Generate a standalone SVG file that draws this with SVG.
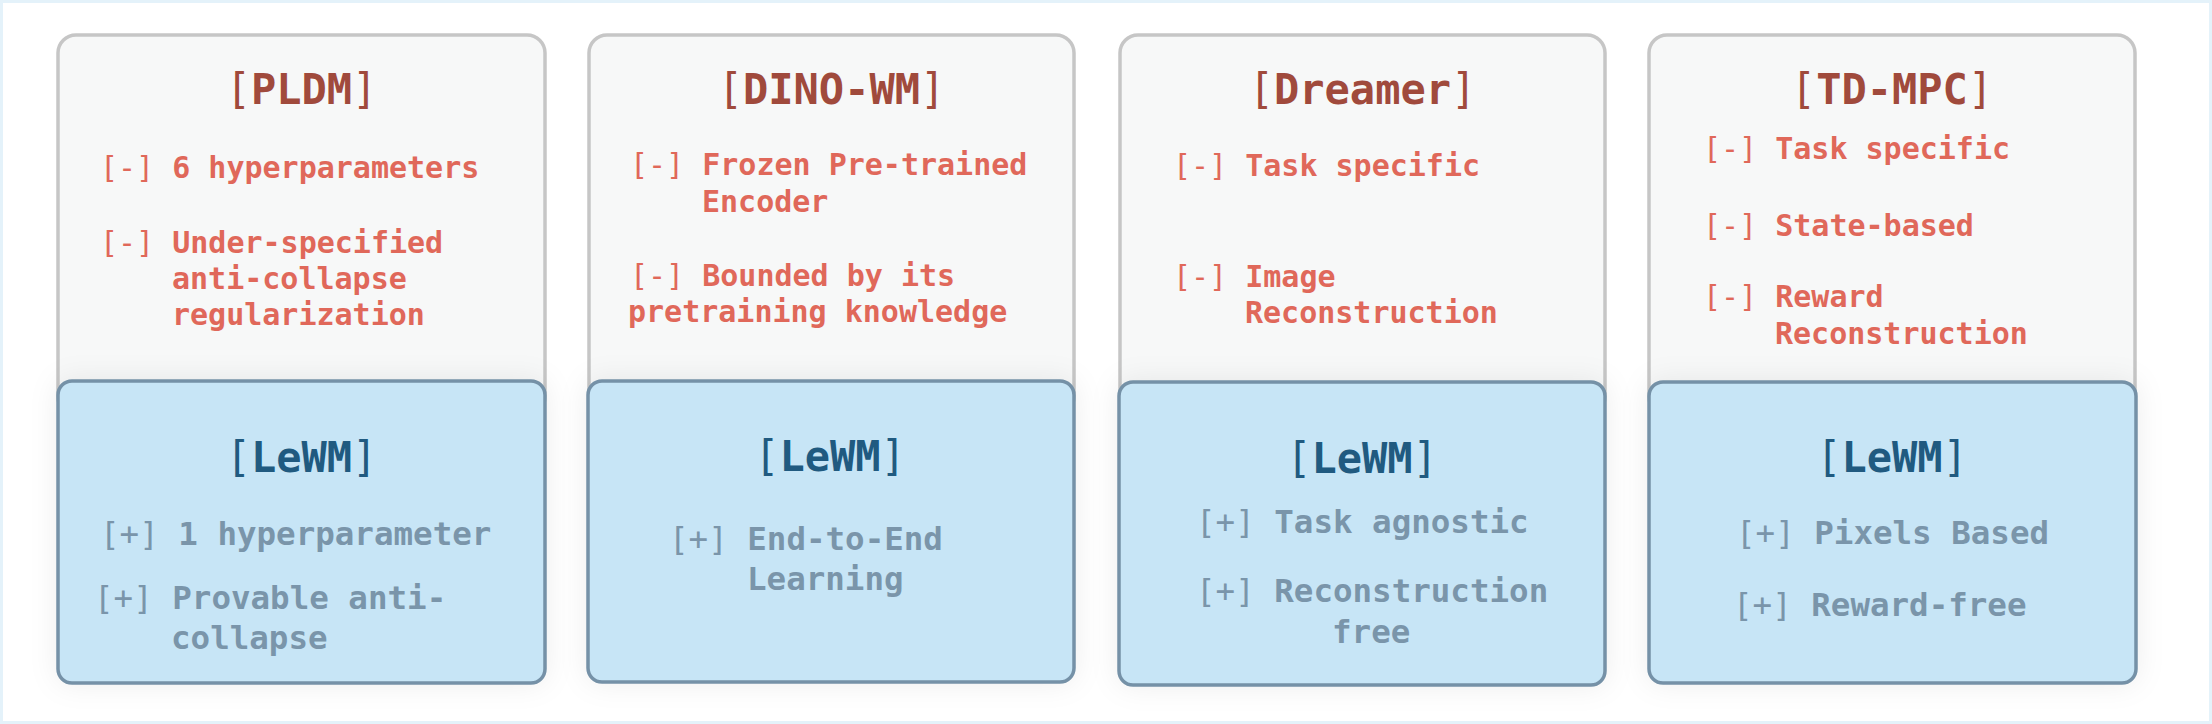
<svg xmlns="http://www.w3.org/2000/svg" width="2212" height="724" viewBox="0 0 2212 724">
<defs>
<filter id="sh" x="-20%" y="-20%" width="140%" height="140%">
<feDropShadow dx="0" dy="0" stdDeviation="14" flood-color="#000" flood-opacity="0.07"/>
</filter>
<style>
text{font-family:"DejaVu Sans Mono","Liberation Mono",monospace;font-weight:bold}
.b{font-weight:normal}
.top{fill:#f7f8f8;stroke:#c6c6c6;stroke-width:3.5}
.le{fill:#c7e5f6;stroke:#7591a7;stroke-width:3.5;filter:url(#sh)}
.t1{font-size:42px;fill:#a04a3c;text-anchor:middle}
.t2{font-size:42px;fill:#205a80;text-anchor:middle}
.m{font-size:30px;fill:#e0685a}
.p{font-size:32.5px;fill:#7a95aa}
</style>
</defs>
<rect x="0" y="0" width="2212" height="724" fill="#ffffff"/>
<rect x="1.5" y="1.5" width="2209" height="721" fill="none" stroke="#e4f2fa" stroke-width="3"/>

<g id="pldm">
<rect class="top" x="58" y="35" width="487" height="380" rx="18"/>
<text class="t1" x="301.5" y="104"><tspan class="b">[</tspan>PLDM<tspan class="b">]</tspan></text>
<text class="m" x="100" y="178"><tspan class="b">[-]</tspan> 6 hyperparameters</text>
<text class="m" x="100" y="253"><tspan class="b">[-]</tspan> Under-specified</text>
<text class="m" x="172" y="289">anti-collapse</text>
<text class="m" x="172" y="325">regularization</text>
</g>
<g id="pldm-lewm">
<rect class="le" x="58" y="381" width="487" height="302" rx="14"/>
<text class="t2" x="301.5" y="472"><tspan class="b">[</tspan>LeWM<tspan class="b">]</tspan></text>
<text class="p" x="100" y="545"><tspan class="b">[+]</tspan> 1 hyperparameter</text>
<text class="p" x="94" y="609"><tspan class="b">[+]</tspan> Provable anti-</text>
<text class="p" x="171" y="649">collapse</text>
</g>

<g id="dino">
<rect class="top" x="589" y="35" width="485" height="380" rx="18"/>
<text class="t1" x="831.5" y="104"><tspan class="b">[</tspan>DINO-WM<tspan class="b">]</tspan></text>
<text class="m" x="630" y="175"><tspan class="b">[-]</tspan> Frozen Pre-trained</text>
<text class="m" x="702" y="212">Encoder</text>
<text class="m" x="630" y="286"><tspan class="b">[-]</tspan> Bounded by its</text>
<text class="m" x="628" y="322">pretraining knowledge</text>
</g>
<g id="dino-lewm">
<rect class="le" x="588" y="381" width="486" height="301" rx="14"/>
<text class="t2" x="830" y="471"><tspan class="b">[</tspan>LeWM<tspan class="b">]</tspan></text>
<text class="p" x="669" y="550"><tspan class="b">[+]</tspan> End-to-End</text>
<text class="p" x="747" y="590">Learning</text>
</g>

<g id="dreamer">
<rect class="top" x="1120" y="35" width="485" height="380" rx="18"/>
<text class="t1" x="1362.5" y="104"><tspan class="b">[</tspan>Dreamer<tspan class="b">]</tspan></text>
<text class="m" x="1173" y="176"><tspan class="b">[-]</tspan> Task specific</text>
<text class="m" x="1173" y="287"><tspan class="b">[-]</tspan> Image</text>
<text class="m" x="1245" y="323">Reconstruction</text>
</g>
<g id="dreamer-lewm">
<rect class="le" x="1119" y="382" width="486" height="303" rx="14"/>
<text class="t2" x="1362" y="473"><tspan class="b">[</tspan>LeWM<tspan class="b">]</tspan></text>
<text class="p" x="1196" y="533"><tspan class="b">[+]</tspan> Task agnostic</text>
<text class="p" x="1196" y="602"><tspan class="b">[+]</tspan> Reconstruction</text>
<text class="p" x="1332" y="643">free</text>
</g>

<g id="tdmpc">
<rect class="top" x="1649" y="35" width="486" height="380" rx="18"/>
<text class="t1" x="1892" y="104"><tspan class="b">[</tspan>TD-MPC<tspan class="b">]</tspan></text>
<text class="m" x="1703" y="159"><tspan class="b">[-]</tspan> Task specific</text>
<text class="m" x="1703" y="236"><tspan class="b">[-]</tspan> State-based</text>
<text class="m" x="1703" y="307"><tspan class="b">[-]</tspan> Reward</text>
<text class="m" x="1775" y="344">Reconstruction</text>
</g>
<g id="tdmpc-lewm">
<rect class="le" x="1649" y="382" width="487" height="301" rx="14"/>
<text class="t2" x="1892" y="472"><tspan class="b">[</tspan>LeWM<tspan class="b">]</tspan></text>
<text class="p" x="1736" y="544"><tspan class="b">[+]</tspan> Pixels Based</text>
<text class="p" x="1733" y="616"><tspan class="b">[+]</tspan> Reward-free</text>
</g>
<g id="connectors"/>
</svg>
